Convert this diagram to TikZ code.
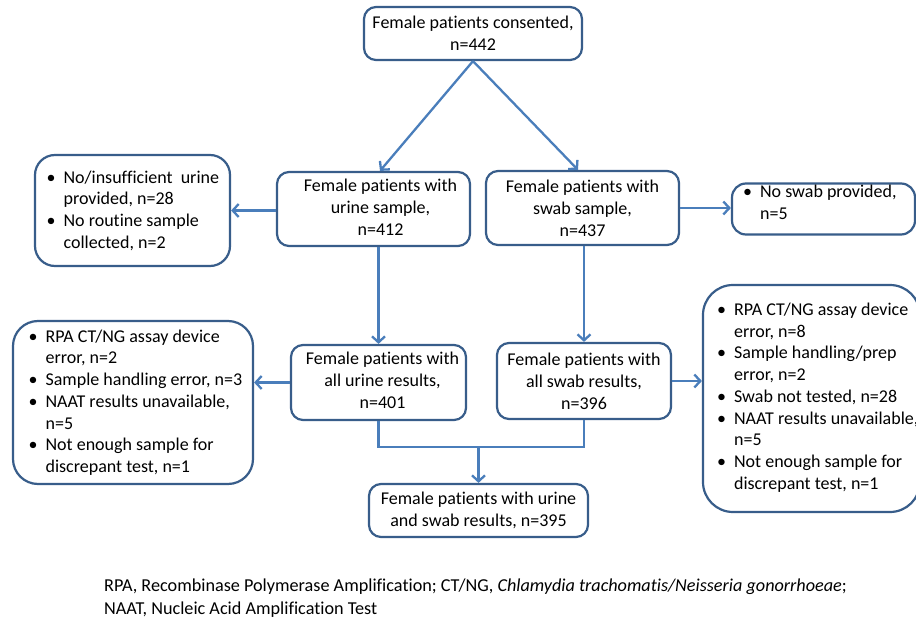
\documentclass[tikz,border=0pt]{standalone}
\usepackage{fontspec}
\setmainfont{Carlito}[Ligatures={NoCommon}]
\usetikzlibrary{arrows.meta,calc}
\definecolor{boxc}{RGB}{56,93,138}
\definecolor{arrc}{RGB}{74,126,187}
\tikzset{
  box/.style={draw=boxc, line width=2.2pt, rounded corners=12pt, fill=white, align=center, inner sep=0pt,
    font=\fontsize{18}{22}\selectfont},
  listtext/.style={anchor=west, align=left, inner sep=0pt, font=\fontsize{18}{21.7}\selectfont},
  conn/.style={draw=arrc, line width=2.3pt, -{Straight Barb[length=6pt,width=13pt,line width=2.3pt]}},
  plain/.style={draw=arrc, line width=2.3pt}
}
\newcommand{\bul}{\makebox[17pt][l]{•}}
\newcommand{\ind}{\hspace*{17pt}}
\newcommand{\shiftc}[2]{\hspace*{#1}\begin{tabular}{@{}c@{}}#2\end{tabular}}
\begin{document}
\begin{tikzpicture}[x=1pt,y=-1pt]
\clip (0,0) rectangle (916,618);
\fill[white] (0,0) rectangle (916,618);

\node[box, minimum width=218pt, minimum height=53pt] (top) at (473,33.5) {Female patients consented,\\n=442};
\node[box, minimum width=193pt, minimum height=74pt] (urine) at (373.5,209) {\shiftc{14pt}{Female patients with\\urine sample,\\n=412}};
\node[box, minimum width=193pt, minimum height=74pt] (swab) at (582.5,208) {Female patients with\\swab sample,\\n=437};
\node[box, rounded corners=20pt, minimum width=195pt, minimum height=111pt] (left) at (132.5,210.5) {};
\node[listtext] (lefttxt) at ([xshift=12.5pt]left.west)
  {\bul No/insufficient\ \ urine\\\ind provided, n=28\\\bul No routine sample\\\ind collected, n=2};
\node[box, rounded corners=14pt, minimum width=183pt, minimum height=51pt] (rsmall) at (823.5,209) {};
\node[listtext] (rsmalltxt) at ([xshift=12pt,yshift=6.5pt]rsmall.west)
  {\bul No swab provided,\\\ind n=5};
\node[box, minimum width=175pt, minimum height=75pt] (ures) at (378.5,382.5) {\shiftc{8pt}{Female patients with\\all urine results,\\n=401}};
\node[box, minimum width=174pt, minimum height=76pt] (sres) at (584,381) {Female patients with\\all swab results,\\n=396};
\node[box, rounded corners=25pt, minimum width=240pt, minimum height=163pt] (lbig) at (133,402.5) {};
\node[listtext] (lbigtxt) at ([xshift=16.5pt]lbig.west)
  {\bul RPA CT/NG assay device\\\ind error, n=2\\\bul Sample handling error, n=3\\\bul NAAT results unavailable,\\\ind n=5\\\bul Not enough sample for\\\ind discrepant test, n=1};
\node[box, rounded corners=30pt, minimum width=217pt, minimum height=227pt] (rbig) at (811.5,398.5) {};
\node[listtext] (rbigtxt) at ([xshift=15pt,yshift=1pt]rbig.west)
  {\bul RPA CT/NG assay device\\\ind error, n=8\\\bul Sample handling/prep\\\ind error, n=2\\\bul Swab not tested, n=28\\\bul NAAT results unavailable,\\\ind n=5\\\bul Not enough sample for\\\ind discrepant test, n=1};
\node[box, minimum width=219pt, minimum height=53pt] (final) at (478.5,510.5) {Female patients with urine\\and swab results, n=395};

\draw[conn] (top.south) -- ([xshift=6.5pt]urine.north);
\draw[conn] (top.south) -- ([xshift=-4.5pt]swab.north);
\draw[conn] (urine.west |- left.east) -- (left.east);
\draw[conn] (swab.east) -- (swab.east -| rsmall.west);
\draw[conn] (ures.north |- urine.south) -- (ures.north);
\draw[conn] (sres.north |- swab.south) -- (sres.north);
\draw[conn] (ures.west) -- (ures.west -| lbig.east);
\draw[conn] (sres.east) -- (sres.east -| rbig.west);
\coordinate (mid) at ($(ures.south)+(0,26)$);
\draw[plain] (ures.south) -- (mid) -| (sres.south);
\draw[conn] (final.north |- mid) -- (final.north);

\node[anchor=north west, align=left, inner sep=0pt, font=\fontsize{18.2}{23}\selectfont] (foot) at (104,579)
  {RPA, Recombinase Polymerase Amplification; CT/NG, \textit{Chlamydia trachomatis/Neisseria gonorrhoeae};\\NAAT, Nucleic Acid Amplification Test};
\end{tikzpicture}
\end{document}
